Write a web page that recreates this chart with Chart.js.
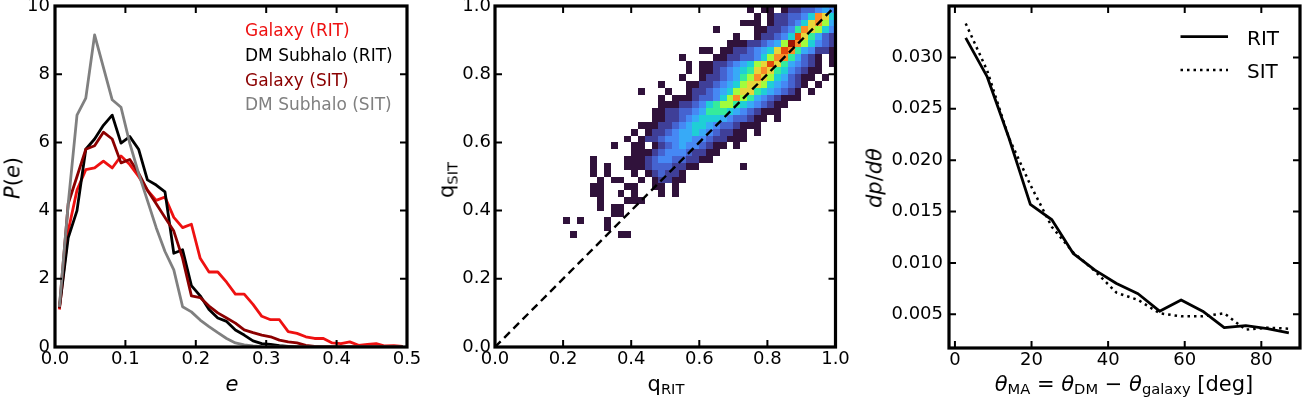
<!DOCTYPE html>
<html lang="en">
<head>
<meta charset="UTF-8">
<title>RIT vs SIT shapes</title>
<script src="https://cdn.jsdelivr.net/npm/chart.js"></script>
<style>
  html, body { margin: 0; padding: 0; background: #fff; }
  body { width: 1304px; height: 400px; position: relative; overflow: hidden; font-family: "DejaVu Sans", sans-serif; }
  .panel { position: absolute; top: 0; }
  .lbl { position: absolute; transform: translate(-50%, -50%); white-space: nowrap; font-size: 20px; line-height: 1; color: #000; }
  .rot { transform: translate(-50%, -50%) rotate(-90deg); }
  .lbl sub { font-size: 0.7em; vertical-align: -0.25em; line-height: 0; }
  .leg { position: absolute; white-space: nowrap; line-height: 1; }
</style>
</head>
<body>
  <canvas id="ecc" class="panel" width="440" height="400" style="left:0"></canvas>
  <canvas id="qq" class="panel" width="420" height="400" style="left:440px"></canvas>
  <canvas id="ma" class="panel" width="444" height="400" style="left:860px"></canvas>

  <!-- axis titles -->
  <div class="lbl rot" style="left:13px; top:178px; font-size:21px"><i>P</i>(<i>e</i>)</div>
  <div class="lbl" style="left:232px; top:384px; font-size:21px"><i>e</i></div>
  <div class="lbl rot" style="left:447px; top:180px; font-size:21px">q<sub>SIT</sub></div>
  <div class="lbl" style="left:666px; top:384px; font-size:21px">q<sub>RIT</sub></div>
  <div class="lbl rot" style="left:875px; top:178px; font-size:21px"><i>dp</i>/<i>dθ</i></div>
  <div class="lbl" style="left:1124px; top:384px; font-size:21px"><i>θ</i><sub>MA</sub> = <i>θ</i><sub>DM</sub> − <i>θ</i><sub>galaxy</sub> [deg]</div>

  <!-- legend, left panel -->
  <div class="leg" style="left:245px; top:22px; font-size:17px; color:#ee1111">Galaxy (RIT)</div>
  <div class="leg" style="left:245px; top:47px; font-size:17px; color:#000">DM Subhalo (RIT)</div>
  <div class="leg" style="left:245px; top:72px; font-size:17px; color:#8b0000">Galaxy (SIT)</div>
  <div class="leg" style="left:245px; top:96px; font-size:17px; color:#808080">DM Subhalo (SIT)</div>

  <!-- legend, right panel -->
  <svg style="position:absolute; left:1180px; top:30px" width="50" height="50">
    <line x1="0.5" y1="6.7" x2="48" y2="6.7" stroke="#000" stroke-width="2.8"/>
    <line x1="0.5" y1="40" x2="48" y2="40" stroke="#000" stroke-width="2.5" stroke-dasharray="2.5,4"/>
  </svg>
  <div class="leg" style="left:1247px; top:28px; font-size:20px">RIT</div>
  <div class="leg" style="left:1247px; top:61px; font-size:20px">SIT</div>

<script>
  Chart.defaults.font.family = 'DejaVu Sans';
  Chart.defaults.color = '#000';

  // ---- panel 1: ellipticity distributions ----
  const eCenters = [0.00625, 0.01875, 0.03125, 0.04375, 0.05625, 0.06875, 0.08125, 0.09375, 0.10625, 0.11875,
                    0.13125, 0.14375, 0.15625, 0.16875, 0.18125, 0.19375, 0.20625, 0.21875, 0.23125, 0.24375,
                    0.25625, 0.26875, 0.28125, 0.29375, 0.30625, 0.31875, 0.33125, 0.34375, 0.35625, 0.36875,
                    0.38125, 0.39375, 0.40625, 0.41875, 0.43125, 0.44375, 0.45625, 0.46875, 0.48125, 0.49375];
  const galaxyRIT = [1.1, 3.4, 4.6, 5.2, 5.25, 5.45, 5.25, 5.6, 5.35, 5.0,
                     4.6, 4.3, 4.4, 3.8, 3.5, 3.6, 2.6, 2.2, 2.2, 1.9,
                     1.55, 1.55, 1.25, 0.9, 0.8, 0.8, 0.45, 0.4, 0.3, 0.25,
                     0.25, 0.12, 0.1, 0.15, 0.05, 0.08, 0.1, 0.03, 0.04, 0.02];
  const dmRIT = [1.14, 3.2, 4.0, 5.8, 6.1, 6.5, 6.8, 5.98, 6.17, 5.8,
                 4.9, 4.75, 4.55, 2.75, 2.85, 1.8, 1.5, 1.1, 0.85, 0.75,
                 0.5, 0.35, 0.18, 0.1, 0.08, 0.04, 0.02, 0, 0, 0,
                 0, 0, 0, 0, 0, 0, 0, 0, 0, 0];
  const galaxySIT = [1.14, 4.2, 5.0, 5.8, 5.9, 6.3, 6.1, 5.4, 5.5, 5.1,
                     4.6, 4.2, 3.8, 3.4, 2.6, 1.5, 1.45, 1.2, 1.0, 0.85,
                     0.7, 0.5, 0.42, 0.35, 0.3, 0.2, 0.15, 0.12, 0.05, 0.02,
                     0, 0, 0, 0, 0, 0, 0, 0, 0, 0];
  const dmSIT = [1.18, 4.2, 6.8, 7.3, 9.15, 8.2, 7.25, 7.03, 5.97, 5.09,
                 4.3, 3.5, 2.8, 2.26, 1.18, 1.03, 0.79, 0.6, 0.42, 0.25,
                 0.12, 0.06, 0.03, 0.01, 0, 0, 0, 0, 0, 0,
                 0, 0, 0, 0, 0, 0, 0, 0, 0, 0];
  const eTicks = [0, 0.1, 0.2, 0.3, 0.4, 0.5];
  const pTicks = [0, 2, 4, 6, 8, 10];

  // ---- panel 2: 2D histogram of axis ratios, bins of 0.02 ----
  const qTicks = [0, 0.2, 0.4, 0.6, 0.8, 1.0];
  const qBin = 0.02;
  // [row j (q_SIT bin), first column i (q_RIT bin), colour level per cell, '.' = empty]
  const heatRows = [
    [49, 37, '1.11.12233454'],
    [48, 38, '1.1223346A96'],
    [47, 36, '111.1223469A85'],
    [46, 32, '1'], [46, 38, '1122347A9864'],
    [45, 35, '1'], [45, 38, '122346B97532'],
    [44, 34, '111223458CA86432'],
    [43, 30, '11.112234569BA754221'],
    [42, 27, '1'], [42, 32, '112233468AA75321.1'],
    [41, 28, '1.1122345689B9754321.1'],
    [40, 28, '1.112345679A97643211'],
    [39, 27, '1..12234578A98653211.1'],
    [38, 24, '1...112234568998654321.1'],
    [37, 21, '1'], [37, 25, '1'], [37, 28, '12234568997654321.1'],
    [36, 24, '1.111233468A875432111'],
    [35, 24, '1112234678876543211'],
    [34, 23, '1122334577765432111'],
    [33, 23, '11223456665433211.1'],
    [32, 21, '111223456654332111'],
    [31, 20, '1.122345565432211.1'],
    [30, 19, '1.1223445544322111'],
    [29, 17, '1'], [29, 20, '11.12345443211.1'],
    [28, 20, '1112344432211'],
    [27, 14, '1'], [27, 19, '1112344332211'],
    [26, 14, '1.1'], [26, 19, '11123332211'], [26, 36, '1'],
    [25, 14, '1.1'], [25, 20, '1.123221'],
    [24, 15, '1.11..1.12211'],
    [23, 14, '11'], [23, 19, '11..11.1'],
    [22, 14, '11'], [22, 18, '1.1'], [22, 24, '1.1'],
    [21, 15, '1'], [21, 19, '111'],
    [20, 15, '1.11'],
    [19, 17, '11'],
    [18, 10, '1.1'], [18, 16, '1'],
    [17, 16, '1'],
    [16, 11, '1'], [16, 18, '11']
  ];
  const heatColors = {
    '1': '#30123b', '2': '#3f3f98', '3': '#4563d0', '4': '#4688f4', '5': '#37aaf7', '6': '#1fcfd6',
    '7': '#35eb9c', '8': '#a2fc3d', '9': '#e8d539', 'A': '#fa8c28', 'B': '#e24a0c', 'C': '#9e1503'
  };
  const diagX = [0, 1];
  const diagY = [0, 1];

  // ---- panel 3: misalignment angle distribution ----
  const thetaCenters = [2.8125, 8.4375, 14.0625, 19.6875, 25.3125, 30.9375, 36.5625, 42.1875,
                        47.8125, 53.4375, 59.0625, 64.6875, 70.3125, 75.9375, 81.5625, 87.1875];
  const dpRIT = [0.0319, 0.0281, 0.0222, 0.0157, 0.0142, 0.0109, 0.0093, 0.0080,
                 0.0070, 0.0053, 0.0064, 0.0053, 0.0037, 0.0039, 0.0036, 0.0032];
  const dpSIT = [0.0333, 0.0287, 0.0222, 0.0176, 0.0135, 0.0110, 0.0092, 0.0071,
                 0.0064, 0.0051, 0.0048, 0.0048, 0.0051, 0.0035, 0.0037, 0.0036];
  const thetaTicks = [0, 20, 40, 60, 80];
  const dpTicks = [0.005, 0.010, 0.015, 0.020, 0.025, 0.030];

  const pts = (xs, ys) => xs.map((x, k) => ({ x: x, y: ys[k] }));

  // inward ticks on all four sides plus a heavy frame, like the original axes
  const framePlugin = {
    id: 'frame',
    afterDatasetsDraw(chart) {
      const { ctx, chartArea: a, scales } = chart;
      const x = scales.x, y = scales.y;
      ctx.save();
      ctx.strokeStyle = '#000';
      ctx.lineWidth = 2;
      ctx.beginPath();
      x.ticks.forEach(t => {
        const p = x.getPixelForValue(t.value);
        ctx.moveTo(p, a.bottom); ctx.lineTo(p, a.bottom - 7);
        ctx.moveTo(p, a.top); ctx.lineTo(p, a.top + 7);
      });
      y.ticks.forEach(t => {
        const p = y.getPixelForValue(t.value);
        ctx.moveTo(a.left, p); ctx.lineTo(a.left + 7, p);
        ctx.moveTo(a.right, p); ctx.lineTo(a.right - 7, p);
      });
      ctx.stroke();
      ctx.lineWidth = 3.2;
      ctx.strokeRect(a.left, a.top, a.right - a.left, a.bottom - a.top);
      ctx.restore();
    }
  };

  // 2D histogram cells, placed with the chart's own scales
  const heatPlugin = {
    id: 'heat',
    beforeDatasetsDraw(chart) {
      const { ctx, scales: { x, y } } = chart;
      ctx.save();
      heatRows.forEach(([j, i0, cells]) => {
        const yTop = Math.round(y.getPixelForValue((j + 1) * qBin));
        const yBot = Math.round(y.getPixelForValue(j * qBin));
        [...cells].forEach((c, k) => {
          if (c === '.') return;
          const i = i0 + k;
          const xL = Math.round(x.getPixelForValue(i * qBin));
          const xR = Math.round(x.getPixelForValue((i + 1) * qBin));
          ctx.fillStyle = heatColors[c];
          ctx.fillRect(xL, yTop, xR - xL, yBot - yTop);
        });
      });
      ctx.restore();
    }
  };

  function axis(min, max, ticks, fmt, size, pad) {
    return {
      type: 'linear', min: min, max: max,
      grid: { display: false, drawTicks: false },
      border: { display: false },
      afterBuildTicks: s => { s.ticks = ticks.map(v => ({ value: v })); },
      afterFit: s => {
        if (s.isHorizontal()) s.height = size; else s.width = size;
        s.paddingLeft = 0; s.paddingRight = 0; s.paddingTop = 0; s.paddingBottom = 0;
      },
      ticks: { autoSkip: false, maxRotation: 0, padding: pad, font: { size: 18 }, color: '#000', callback: fmt }
    };
  }

  function baseOptions(xAxis, yAxis, rightPad) {
    return {
      responsive: false, animation: false, events: [],
      layout: { padding: { top: 6, right: rightPad, left: 0, bottom: 0 } },
      plugins: { legend: { display: false }, tooltip: { enabled: false } },
      scales: { x: xAxis, y: yAxis }
    };
  }

  const lineSet = (label, xs, ys, color, order) => ({
    label: label, data: pts(xs, ys), borderColor: color, borderWidth: 2.8,
    pointRadius: 0, tension: 0, fill: false, borderJoinStyle: 'round', order: order
  });

  new Chart(document.getElementById('ecc'), {
    type: 'line',
    data: {
      datasets: [
        lineSet('Galaxy (RIT)', eCenters, galaxyRIT, '#ee1111', 4),
        lineSet('DM Subhalo (RIT)', eCenters, dmRIT, '#000000', 3),
        lineSet('Galaxy (SIT)', eCenters, galaxySIT, '#8b0000', 2),
        lineSet('DM Subhalo (SIT)', eCenters, dmSIT, '#808080', 1)
      ]
    },
    options: baseOptions(
      axis(0, 0.5, eTicks, v => v.toFixed(1), 53, 2),
      axis(0, 10, pTicks, v => String(v), 55, 5),
      33),
    plugins: [framePlugin]
  });

  new Chart(document.getElementById('qq'), {
    type: 'line',
    data: {
      datasets: [{
        label: 'one-to-one', data: pts(diagX, diagY), borderColor: '#000', borderWidth: 2.4,
        borderDash: [8, 5], pointRadius: 0, fill: false
      }]
    },
    options: baseOptions(
      axis(0, 1, qTicks, v => v.toFixed(1), 53, 2),
      axis(0, 1, qTicks, v => v.toFixed(1), 55, 4),
      24.5),
    plugins: [heatPlugin, framePlugin]
  });

  new Chart(document.getElementById('ma'), {
    type: 'line',
    data: {
      datasets: [
        { label: 'RIT', data: pts(thetaCenters, dpRIT), borderColor: '#000', borderWidth: 2.8,
          pointRadius: 0, tension: 0, fill: false, borderJoinStyle: 'round' },
        { label: 'SIT', data: pts(thetaCenters, dpSIT), borderColor: '#000', borderWidth: 2.5,
          borderDash: [2.5, 4], pointRadius: 0, tension: 0, fill: false }
      ]
    },
    options: baseOptions(
      axis(-1.55, 90.1, thetaTicks, v => String(v), 52, 2),
      axis(0.00172, 0.035, dpTicks, v => v.toFixed(3), 89, 6),
      4),
    plugins: [framePlugin]
  });
</script>
</body>
</html>
